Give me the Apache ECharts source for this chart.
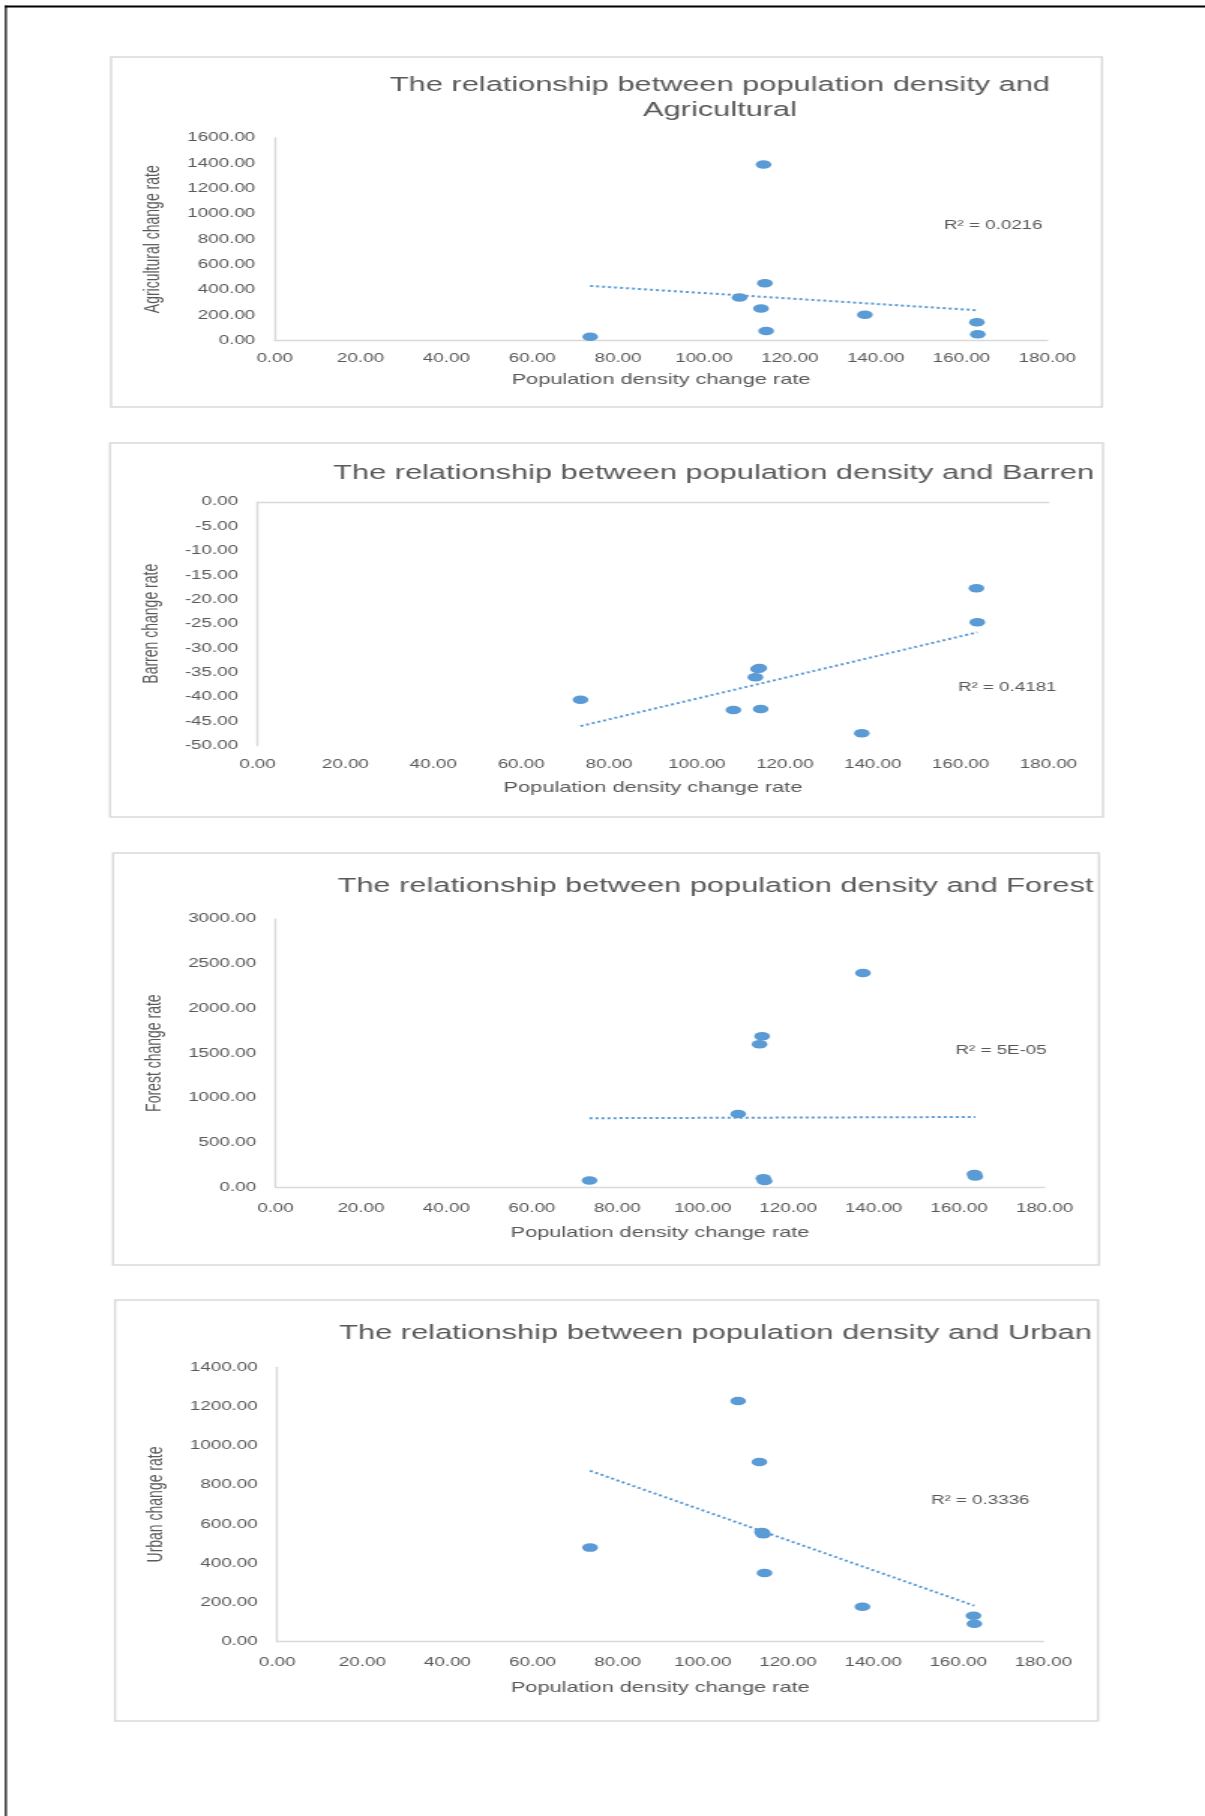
<!DOCTYPE html>
<html><head><meta charset="utf-8">
<script src="https://cdn.jsdelivr.net/npm/echarts@6/dist/echarts.min.js"></script>
<style>
html,body{margin:0;padding:0;background:#fff;overflow:hidden;}
#wrap{position:absolute;left:0;top:0;width:1205px;height:1816px;overflow:hidden;}
#chart{position:absolute;left:0;top:0;width:803px;height:1816px;transform:scaleX(1.5006);transform-origin:0 0;}
</style></head><body>
<div id="wrap"><div id="chart"></div></div>
<script>
// ---------- data ----------
const popDensityRate   = [73.5, 108.3, 113.3, 113.9, 114.2, 114.5, 137.5, 163.6, 163.8];
const agriculturalRate = [30, 340, 253, 1390, 453, 76, 203, 145, 50];
const barrenRate       = [-40.6, -42.7, -36.0, -34.3, -34.1, -42.5, -47.5, -17.7, -24.7];
const forestRate       = [75, 820, 1600, 1690, 100, 70, 2395, 150, 120];
const urbanRate        = [480, 1228, 917, 560, 548, 350, 178, 133, 92];
const xTickRange  = [0, 180, 20];
const yTickRanges = [[0, 1600, 200], [-50, 0, 5], [0, 3000, 500], [0, 1400, 200]];
const chartTitles = [
  'The relationship between population density and\nAgricultural',
  'The relationship between population density and Barren',
  'The relationship between population density and Forest',
  'The relationship between population density and Urban'
];
const yAxisNames = ['Agricultural change rate', 'Barren change rate', 'Forest change rate', 'Urban change rate'];
const xAxisName  = 'Population density change rate';
const r2Labels   = ['R\u00b2 = 0.0216', 'R\u00b2 = 0.4181', 'R\u00b2 = 5E-05', 'R\u00b2 = 0.3336'];
const seriesValues = [agriculturalRate, barrenRate, forestRate, urbanRate];

// ---------- layout (screen px, before horizontal stretch) ----------
const S = 1205 / 803;
const ux = v => v / S;
const FONT = 'Liberation Sans, Arial, sans-serif';
const GRAY = '#595959', AXIS = '#d9d9d9', BLUE = '#5B9BD5';
const layout = [
  {frame:[111,57,1102,407],   plot:[274.7,138,1047.3,340.5],   titleX:720,   titleTop:72.5,  xLM:12,   xNG:31.5, yNG:73.5, r2:[944,226]},
  {frame:[110,443,1103,817],  plot:[257.5,502,1048.5,745.5],   titleX:713.7, titleTop:460.5, xLM:13,   xNG:35,   yNG:63.3, r2:[958,687.3]},
  {frame:[113,853,1099,1265], plot:[275.5,919,1044.5,1187.3],  titleX:715.5, titleTop:873.5, xLM:14.5, xNG:38.3, yNG:73,   r2:[955.5,1051]},
  {frame:[115,1300,1098,1721],plot:[277.2,1367.3,1043.3,1641.7],titleX:715.5, titleTop:1320.8,xLM:14.5, xNG:39,   yNG:74,   r2:[931,1500.7]}
];

function linFit(xs, ys) {
  const n = xs.length;
  const mx = xs.reduce((a, b) => a + b, 0) / n;
  const my = ys.reduce((a, b) => a + b, 0) / n;
  let sxy = 0, sxx = 0;
  for (let i = 0; i < n; i++) { sxy += (xs[i] - mx) * (ys[i] - my); sxx += (xs[i] - mx) ** 2; }
  const b = sxy / sxx;
  return { a: my - b * mx, b };
}
const fmt = v => v.toFixed(2);
const labelStyle = { fontFamily: FONT, fontSize: 12.5, color: GRAY };
const nameStyle = { fontFamily: FONT, fontSize: 14.5, color: GRAY };

const grids = [], xAxes = [], yAxes = [], series = [], titles = [], graphics = [];
layout.forEach((L, i) => {
  const p = L.plot;
  grids.push({ left: ux(p[0]), top: p[1], width: ux(p[2] - p[0]), height: p[3] - p[1] });
  titles.push({ text: chartTitles[i], left: ux(L.titleX), top: L.titleTop, textAlign: 'center', padding: 0,
    textStyle: { fontFamily: FONT, fontSize: 20.5, fontWeight: 'normal', color: GRAY, lineHeight: 25 } });
  xAxes.push({ type: 'value', gridIndex: i, min: xTickRange[0], max: xTickRange[1], interval: xTickRange[2],
    position: 'bottom',
    axisLine: { show: i !== 1, onZero: false, lineStyle: { color: AXIS, width: 1.4 } },
    axisTick: { show: false }, splitLine: { show: false },
    axisLabel: Object.assign({ formatter: fmt, margin: L.xLM }, labelStyle),
    name: xAxisName, nameLocation: 'middle', nameGap: L.xNG, nameTextStyle: nameStyle });
  const yr = yTickRanges[i];
  yAxes.push({ type: 'value', gridIndex: i, min: yr[0], max: yr[1], interval: yr[2],
    axisLine: { show: true, onZero: false, lineStyle: { color: AXIS, width: 1.4 } },
    axisTick: { show: false }, splitLine: { show: false },
    axisLabel: Object.assign({ formatter: fmt, margin: 13 }, labelStyle),
    name: yAxisNames[i], nameLocation: 'middle', nameGap: L.yNG,
    nameTextStyle: Object.assign({}, nameStyle, { fontSize: 14 }) });
  const ys = seriesValues[i];
  series.push({ type: 'scatter', xAxisIndex: i, yAxisIndex: i,
    data: popDensityRate.map((x, k) => [x, ys[k]]),
    symbol: 'circle', symbolSize: [10.5, 8.5], itemStyle: { color: BLUE, opacity: 1 }, z: 3 });
  const f = linFit(popDensityRate, ys);
  const x0 = Math.min(...popDensityRate), x1 = Math.max(...popDensityRate);
  series.push({ type: 'line', xAxisIndex: i, yAxisIndex: i, symbol: 'none', silent: true,
    data: [[x0, f.a + f.b * x0], [x1, f.a + f.b * x1]],
    lineStyle: { color: BLUE, width: 2, type: [2, 2] }, z: 4 });
  const fr = L.frame;
  graphics.push({ type: 'rect', shape: { x: ux(fr[0]), y: fr[1], width: ux(fr[2] - fr[0]), height: fr[3] - fr[1] },
    style: { fill: 'none', stroke: AXIS, lineWidth: 1.4 }, z: 0 });
  graphics.push({ type: 'text', x: ux(L.r2[0]), y: L.r2[1],
    style: { text: r2Labels[i], fill: GRAY, fontFamily: FONT, fontSize: 12.5, align: 'left', verticalAlign: 'middle' } });
});
// top axis line for the Barren chart (all values negative, line sits at 0)
xAxes.push({ type: 'value', gridIndex: 1, min: xTickRange[0], max: xTickRange[1], interval: xTickRange[2],
  position: 'top', axisLine: { show: true, onZero: false, lineStyle: { color: AXIS, width: 1.4 } },
  axisTick: { show: false }, axisLabel: { show: false }, splitLine: { show: false } });
// page border
graphics.push({ type: 'line', shape: { x1: ux(5), y1: 6.5, x2: 803, y2: 6.5 }, style: { stroke: '#000', lineWidth: 2 } });
graphics.push({ type: 'line', shape: { x1: ux(5.8), y1: 5.5, x2: ux(5.8), y2: 1816 }, style: { stroke: '#000', lineWidth: 1.2 } });

const chart = echarts.init(document.getElementById('chart'), null, { renderer: 'canvas' });
chart.setOption({
  animation: false,
  backgroundColor: '#fff',
  title: titles,
  grid: grids,
  xAxis: xAxes,
  yAxis: yAxes,
  series: series,
  graphic: graphics
});
</script>
</body></html>
